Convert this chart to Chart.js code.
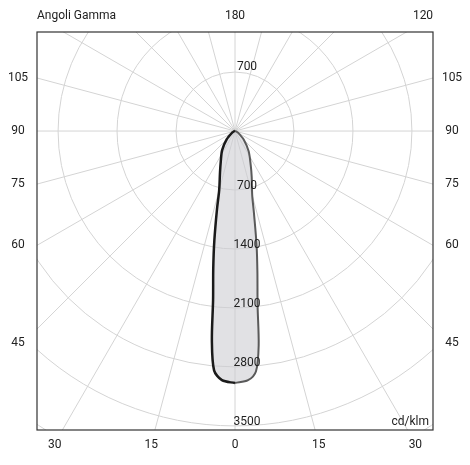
<!DOCTYPE html>
<html>
<head>
<meta charset="utf-8">
<script src="https://cdn.jsdelivr.net/npm/chart.js@4"></script>
<style>
  html, body { margin: 0; padding: 0; background: #fff; }
  #wrap { width: 470px; height: 465px; }
</style>
</head>
<body>
<div id="wrap"><canvas id="polar"></canvas></div>
<script>
  // gamma angles (deg) and intensities (cd/klm)
  const gammaAngles = [0, 3, 5, 6.3, 7.4, 9, 10.7, 13, 15, 20, 25, 34, 45, 60, 75, 90];
  const leftPlane  = [2990, 2960, 2850, 2500, 2020, 1650, 1320, 950, 725, 520, 400, 273, 140, 40, 10, 0];
  const rightPlane = [2990, 2960, 2860, 2560, 2080, 1700, 1380, 1000, 790, 580, 440, 290, 150, 45, 10, 0];
  const radialTicks = [700, 1400, 2100, 2800, 3500];
  const sideLabels = [45, 60, 75, 90, 105];
  const bottomLabels = [30, 15, 0];

  const toXY = (g, r, side) => {
    const a = g * Math.PI / 180;
    return { x: side * r * Math.sin(a), y: -r * Math.cos(a) };
  };
  const leftPts = gammaAngles.map((g, i) => toXY(g, leftPlane[i], -1));
  const rightPts = gammaAngles.map((g, i) => toXY(g, rightPlane[i], 1));
  const closed = leftPts.slice().reverse().concat(rightPts);

  const gridPlugin = {
    id: 'polarGrid',
    beforeDatasetsDraw(chart) {
      const { ctx, chartArea: ca, scales: { x, y } } = chart;
      const cx = x.getPixelForValue(0), cy = y.getPixelForValue(0);
      const pxPer = (x.getPixelForValue(1000) - cx) / 1000;
      ctx.save();
      ctx.beginPath();
      ctx.rect(ca.left, ca.top, ca.right - ca.left, ca.bottom - ca.top);
      ctx.clip();
      ctx.strokeStyle = '#d4d4d4';
      ctx.lineWidth = 1;
      for (let r = 700; r <= 4900; r += 700) {
        ctx.beginPath();
        ctx.arc(cx, cy, r * pxPer, 0, Math.PI * 2);
        ctx.stroke();
      }
      for (let g = 0; g < 360; g += 15) {
        const a = g * Math.PI / 180;
        ctx.beginPath();
        ctx.moveTo(cx, cy);
        ctx.lineTo(cx + Math.sin(a) * 1000, cy + Math.cos(a) * 1000);
        ctx.stroke();
      }
      ctx.restore();
    },
    afterDatasetsDraw(chart) {
      const { ctx, chartArea: ca, scales: { x, y } } = chart;
      const cx = x.getPixelForValue(0), cy = y.getPixelForValue(0);
      const pxPer = (x.getPixelForValue(1000) - cx) / 1000;
      ctx.save();
      ctx.strokeStyle = '#333';
      ctx.lineWidth = 1.2;
      ctx.strokeRect(ca.left, ca.top, ca.right - ca.left, ca.bottom - ca.top);
      ctx.font = '12px Roboto, "DejaVu Sans", sans-serif';
      ctx.fillStyle = '#222';
      ctx.textAlign = 'center';
      ctx.textBaseline = 'middle';
      // radial values below centre and one above
      radialTicks.forEach(r => ctx.fillText(String(r), cx + 12, cy + r * pxPer - 4));
      ctx.fillText('700', cx + 12, cy - 700 * pxPer - 5);
      // side labels
      const halfW = cx - ca.left;
      sideLabels.forEach(g => {
        const a = (g - 90) * Math.PI / 180;
        const py = cy - halfW * Math.tan(a) + (g === 45 ? 14 : 0);
        ctx.fillText(String(g), 18, py);
        ctx.fillText(String(g), 452, py);
      });
      bottomLabels.forEach(g => {
        const dx = (ca.bottom - cy) * Math.tan(g * Math.PI / 180) * 1.045;
        ctx.fillText(String(g), cx - dx, 445);
        if (g) ctx.fillText(String(g), cx + dx, 445);
      });
      ctx.fillText('180', cx, 16);
      ctx.fillText('120', 423, 16);
      ctx.textAlign = 'left';
      ctx.fillText('Angoli Gamma', 37, 16);
      ctx.textAlign = 'right';
      ctx.fillText('cd/klm', ca.right - 4, ca.bottom - 8);
      ctx.restore();
    }
  };

  new Chart(document.getElementById('polar').getContext('2d'), {
    type: 'scatter',
    data: {
      datasets: [
        { data: closed, showLine: true, fill: 'shape', backgroundColor: 'rgba(205,205,210,0.6)',
          borderColor: 'rgba(0,0,0,0)', borderWidth: 0, pointRadius: 0, tension: 0.3, order: 3 },
        { data: rightPts, showLine: true, borderColor: '#5a5a5a', borderWidth: 2,
          pointRadius: 0, tension: 0.3, order: 2 },
        { data: leftPts, showLine: true, borderColor: '#1a1a1a', borderWidth: 2.5,
          pointRadius: 0, tension: 0.3, order: 1 }
      ]
    },
    options: {
      responsive: true,
      maintainAspectRatio: false,
      animation: false,
      layout: { padding: { left: 37, right: 37, top: 32, bottom: 35 } },
      plugins: { legend: { display: false }, tooltip: { enabled: false } },
      scales: {
        x: { type: 'linear', min: -2350, max: 2350, display: false },
        y: { type: 'linear', min: -3547, max: 1175, display: false }
      }
    },
    plugins: [gridPlugin]
  });
</script>
</body>
</html>
